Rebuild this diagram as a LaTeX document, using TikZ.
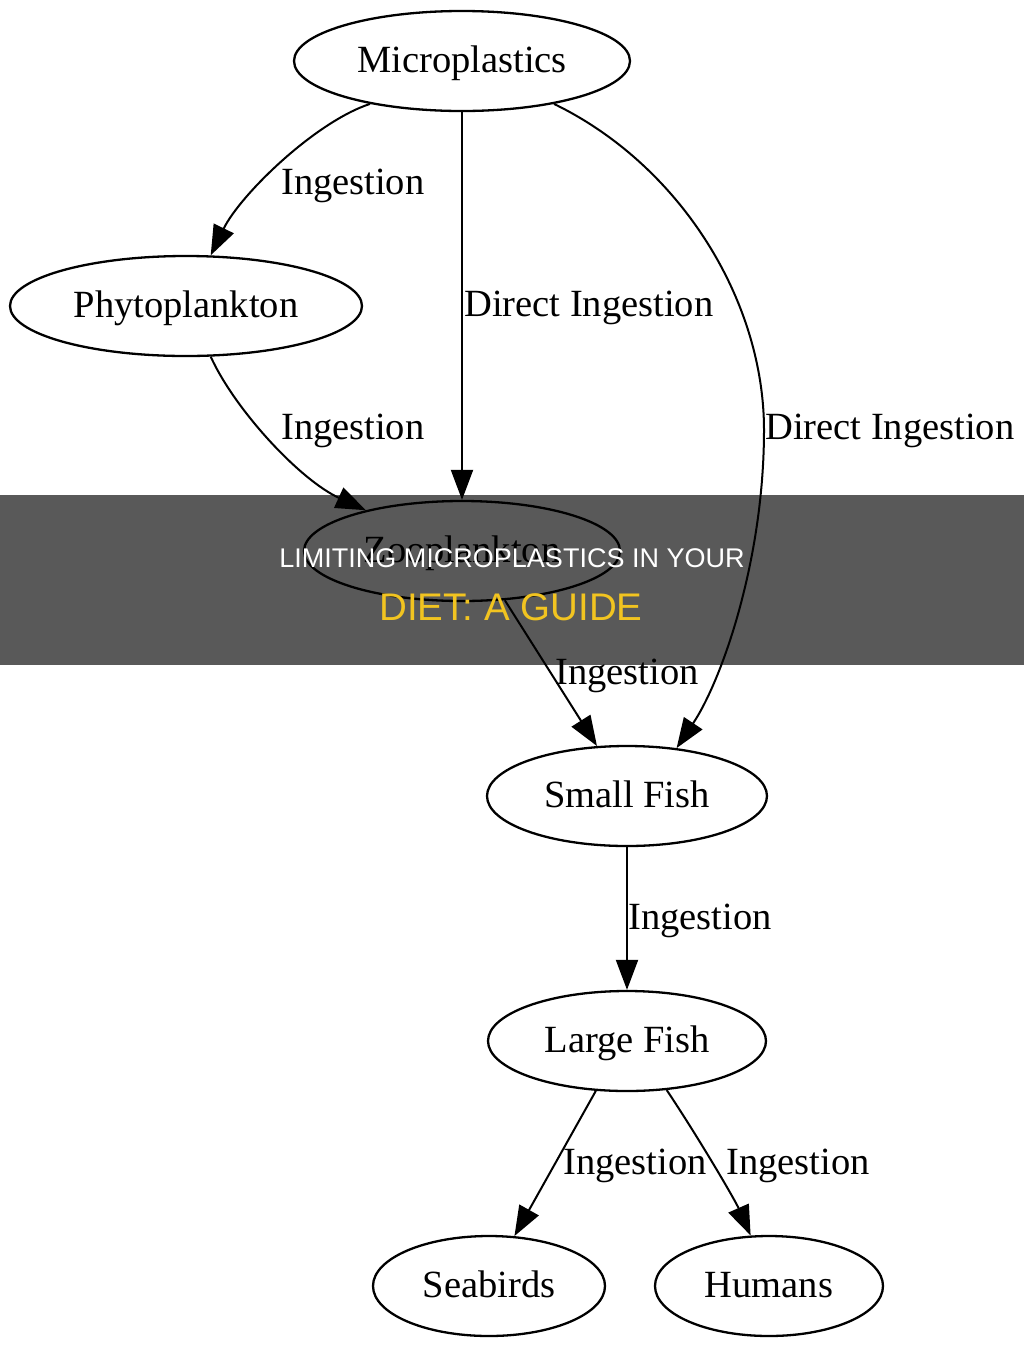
\documentclass[tikz,border=0pt]{standalone}
\usepackage{fontspec}
\setmainfont{Liberation Serif}
\newfontfamily\bannerfont{Liberation Sans}
\usetikzlibrary{arrows.meta,shapes.geometric}
\definecolor{banneryellow}{RGB}{242,196,32}
\tikzset{
  graphnode/.style={ellipse, draw, line width=2.3pt, inner sep=0pt,
    font=\fontsize{38.5}{40}\selectfont, text height=30pt, text depth=8pt},
  flow/.style={line width=2pt, -{Triangle[length=30pt,width=22pt]}},
  elabel/.style={anchor=base west, inner sep=0pt, font=\fontsize{38.5}{40}\selectfont},
}
\begin{document}
\begin{tikzpicture}[x=1pt,y=-1pt]
\useasboundingbox[fill=white] (0,0) rectangle (1024,1350);

% nodes
\node[graphnode, minimum width=336pt, minimum height=100pt] (mp) at (462,61) {Microplastics};
\node[graphnode, minimum width=352pt, minimum height=100pt] (ph) at (186,306) {Phytoplankton};
\node[graphnode, minimum width=316pt, minimum height=100pt] (zp) at (462,551) {Zooplankton};
\node[graphnode, minimum width=280pt, minimum height=100pt] (sf) at (627,796) {Small Fish};
\node[graphnode, minimum width=278pt, minimum height=100pt] (lf) at (627,1041) {Large Fish};
\node[graphnode, minimum width=232pt, minimum height=100pt] (sb) at (489,1286) {Seabirds};
\node[graphnode, minimum width=228pt, minimum height=100pt] (hu) at (769,1286) {Humans};

% edges
\draw[flow] (mp.205) .. controls (315,122) and (240,195) .. (ph.64);
\draw[flow] (mp.south) -- (zp.north);
\draw[flow] (mp.335) .. controls (680,165) and (764,300) .. (764,430)
                     .. controls (764,560) and (722,680) .. (sf.44);
\draw[flow] (ph.296) .. controls (235,410) and (300,480) .. (zp.157);
\draw[flow] (zp.311) -- (sf.121);
\draw[flow] (sf.south) -- (lf.north);
\draw[flow] (lf.238) -- (sb.63);
\draw[flow] (lf.309) .. controls (700,1140) and (735,1200) .. (hu.110);

% edge labels
\node[elabel] (l1) at (281,194) {Ingestion};
\node[elabel] (l2) at (464,316) {Direct Ingestion};
\node[elabel] (l3) at (765,439) {Direct Ingestion};
\node[elabel] (l4) at (281,439) {Ingestion};
\node[elabel] (l5) at (555,684) {Ingestion};
\node[elabel] (l6) at (628,929) {Ingestion};
\node[elabel] (l7) at (563,1174) {Ingestion};
\node[elabel] (l8) at (726,1174) {Ingestion};

% banner overlay
\fill[black, opacity=0.65] (0,495) rectangle (1024,665);
\node[anchor=base, inner sep=0pt, text=white, font=\bannerfont\fontsize{27}{30}\selectfont] (t1) at (512,567) {LIMITING MICROPLASTICS IN YOUR};
\node[anchor=base, inner sep=0pt, text=banneryellow, font=\bannerfont\fontsize{38.5}{40}\selectfont] (t2) at (511,620) {DIET: A GUIDE};
\end{tikzpicture}
\end{document}
